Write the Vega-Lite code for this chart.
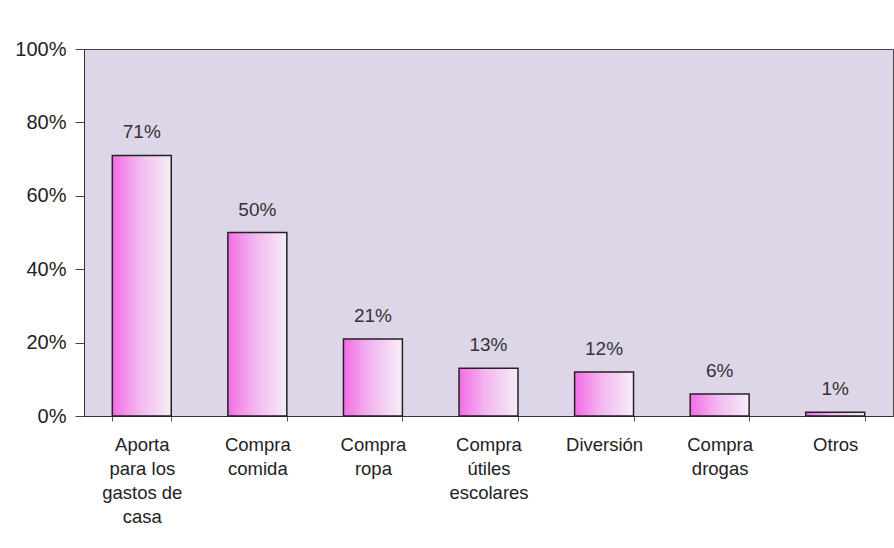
{
  "$schema": "https://vega.github.io/schema/vega-lite/v6.json",
  "autosize": {"type": "none"},
  "width": 809,
  "height": 367,
  "padding": {"left": 84, "top": 49, "right": 1, "bottom": 132},
  "background": "#ffffff",
  "config": {
    "font": "Liberation Sans",
    "view": {"fill": "#ddd6e8", "stroke": "#444444", "strokeWidth": 1}
  },
  "data": {
    "values": [
      {"uso": "Aporta para los gastos de casa", "pct": 0.71},
      {"uso": "Compra comida", "pct": 0.50},
      {"uso": "Compra ropa", "pct": 0.21},
      {"uso": "Compra útiles escolares", "pct": 0.13},
      {"uso": "Diversión", "pct": 0.12},
      {"uso": "Compra drogas", "pct": 0.06},
      {"uso": "Otros", "pct": 0.01}
    ]
  },
  "encoding": {
    "x": {
      "field": "uso",
      "type": "nominal",
      "sort": null,
      "scale": {"paddingInner": 0.49, "paddingOuter": 0.245},
      "axis": {
        "title": null,
        "labelAngle": 0,
        "labelFontSize": 18.5,
        "labelColor": "#222222",
        "labelLineHeight": 24,
        "labelPadding": 14,
        "labelBaseline": "top",
        "tickBand": "extent",
        "tickSize": 5,
        "tickColor": "#555555",
        "domainColor": "#333333",
        "labelExpr": "datum.value == 'Aporta para los gastos de casa' ? ['Aporta','para los','gastos de','casa'] : datum.value == 'Compra comida' ? ['Compra','comida'] : datum.value == 'Compra ropa' ? ['Compra','ropa'] : datum.value == 'Compra útiles escolares' ? ['Compra','útiles','escolares'] : datum.value == 'Compra drogas' ? ['Compra','drogas'] : datum.value"
      }
    },
    "y": {
      "field": "pct",
      "type": "quantitative",
      "scale": {"domain": [0, 1]},
      "axis": {
        "title": null,
        "format": ".0%",
        "values": [0, 0.2, 0.4, 0.6, 0.8, 1],
        "grid": false,
        "labelFontSize": 20,
        "labelColor": "#222222",
        "labelPadding": 9,
        "tickSize": 9,
        "tickColor": "#444444",
        "domainColor": "#333333"
      }
    }
  },
  "layer": [
    {
      "mark": {
        "type": "bar",
        "stroke": "#222222",
        "strokeWidth": 1.5,
        "color": {
          "gradient": "linear",
          "x1": 0, "y1": 0, "x2": 1, "y2": 0,
          "stops": [
            {"offset": 0, "color": "#f36ce6"},
            {"offset": 0.45, "color": "#f3b6ef"},
            {"offset": 1, "color": "#f6eef8"}
          ]
        }
      }
    },
    {
      "mark": {
        "type": "text",
        "baseline": "bottom",
        "dy": -13,
        "fontSize": 19,
        "color": "#333333"
      },
      "encoding": {
        "text": {"field": "pct", "type": "quantitative", "format": ".0%"}
      }
    }
  ]
}
